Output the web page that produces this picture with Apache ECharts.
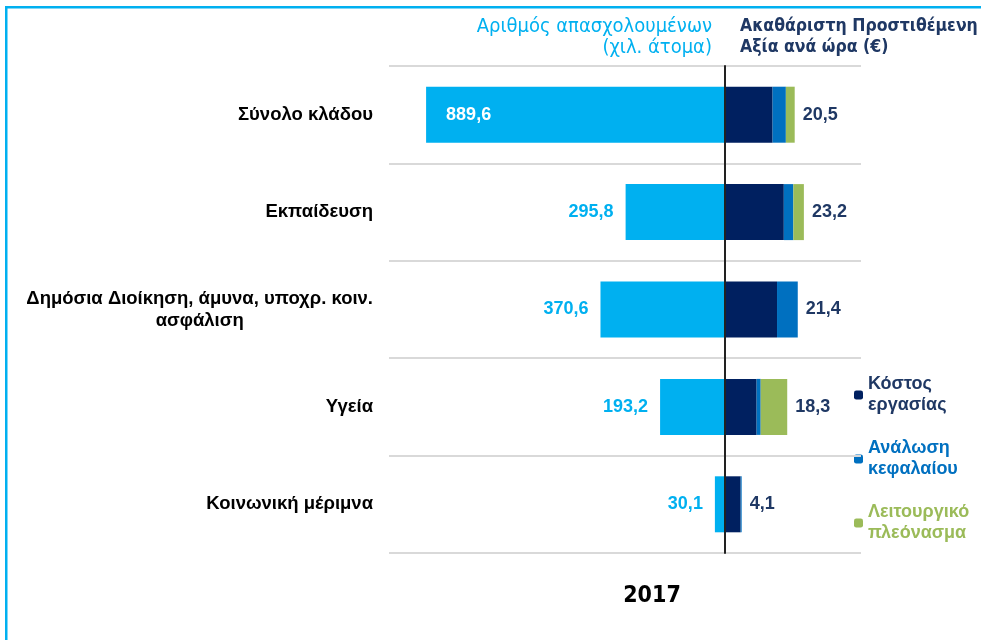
<!DOCTYPE html>
<html>
<head>
<meta charset="utf-8">
<script src="https://cdn.jsdelivr.net/npm/echarts@6/dist/echarts.min.js"></script>
<style>
  html, body { margin: 0; padding: 0; background: #fff; }
  #chart { width: 981px; height: 640px; }
</style>
</head>
<body>
<div id="chart"></div>
<script>
// κατηγορίες (από πάνω προς τα κάτω)
const categories = [
  'Σύνολο κλάδου',
  'Εκπαίδευση',
  'Δημόσια Διοίκηση, άμυνα, υποχρ. κοιν.\nασφάλιση',
  'Υγεία',
  'Κοινωνική μέριμνα'
]
// απασχολούμενοι (χιλ. άτομα)
const employed = [889.6, 295.8, 370.6, 193.2, 30.1]
// ΑΠΑ ανά ώρα - συνιστώσες
const labourCost = [14.0, 17.3, 15.3, 9.3, 4.6]
const capitalUse = [3.9, 2.8, 6.1, 1.2, 0.3]
const opSurplus = [2.6, 3.1, 0, 7.8, 0]
const gvaTotal = [20.5, 23.2, 21.4, 18.3, 4.1]
const legendNames = ['Κόστος εργασίας', 'Ανάλωση κεφαλαίου', 'Λειτουργικό πλεόνασμα']

const fmt = v => v.toFixed(1).replace('.', ',')
const font = "'Liberation Sans', Arial, sans-serif"
const narrow = "'Liberation Sans Narrow', 'DejaVu Sans Condensed', 'Liberation Sans', sans-serif"

const chart = echarts.init(document.getElementById('chart'))

const splitLine = { show: true, lineStyle: { color: '#d9d9d9', width: 2 } }

chart.setOption({
  animation: false,
  textStyle: { fontFamily: font },
  grid: [
    { left: 389, width: 336, top: 66, height: 487 },
    { left: 725, width: 136, top: 66, height: 487 }
  ],
  xAxis: [
    { gridIndex: 0, type: 'value', inverse: true, min: 0, max: 1000, show: false },
    { gridIndex: 1, type: 'value', min: 0, max: 40, show: false }
  ],
  yAxis: [
    {
      gridIndex: 0,
      type: 'category',
      inverse: true,
      data: categories,
      axisLine: { show: false },
      axisTick: { show: false },
      splitLine: splitLine,
      axisLabel: {
        margin: 16,
        color: '#000',
        fontWeight: 'bold',
        fontSize: 18.5,
        lineHeight: 22,
        formatter: v => v.split('\n').map(s => '{c|' + s + '}').join('\n'),
        rich: { c: { align: 'center', fontWeight: 'bold', fontSize: 18.5, color: '#000', lineHeight: 22 } }
      }
    },
    {
      gridIndex: 1,
      type: 'category',
      inverse: true,
      data: categories,
      axisLine: { show: true, lineStyle: { color: '#222', width: 2 } },
      axisTick: { show: false },
      axisLabel: { show: false },
      splitLine: splitLine,
      z: 5
    }
  ],
  legend: {
    orient: 'vertical',
    left: 849,
    top: 369,
    itemWidth: 9,
    itemHeight: 9,
    itemGap: 22,
    selectedMode: false,
    data: [
      { name: legendNames[0], textStyle: { color: '#1f3864' } },
      { name: legendNames[1], textStyle: { color: '#0070c0' } },
      { name: legendNames[2], textStyle: { color: '#9bbb59' } }
    ],
    formatter: n => n.replace(' ', '\n'),
    textStyle: { fontSize: 18, fontWeight: 'bold', lineHeight: 21, fontFamily: font }
  },
  series: [
    {
      name: 'Απασχολούμενοι',
      type: 'bar',
      xAxisIndex: 0,
      yAxisIndex: 0,
      barWidth: 56,
      itemStyle: { color: '#00b0f0' },
      data: employed.map((v, i) => ({
        value: v,
        label: i === 0
          ? { position: 'insideLeft', distance: 20, color: '#fff' }
          : { position: 'left', distance: 12, color: '#00b0f0' }
      })),
      label: {
        show: true,
        fontSize: 18,
        fontWeight: 'bold',
        formatter: p => fmt(p.value)
      }
    },
    {
      name: legendNames[0],
      type: 'bar',
      stack: 'gva',
      xAxisIndex: 1,
      yAxisIndex: 1,
      barWidth: 56,
      itemStyle: { color: '#002060' },
      data: labourCost
    },
    {
      name: legendNames[1],
      type: 'bar',
      stack: 'gva',
      xAxisIndex: 1,
      yAxisIndex: 1,
      barWidth: 56,
      itemStyle: { color: '#0070c0' },
      data: capitalUse
    },
    {
      name: legendNames[2],
      type: 'bar',
      stack: 'gva',
      xAxisIndex: 1,
      yAxisIndex: 1,
      barWidth: 56,
      itemStyle: { color: '#9bbb59' },
      data: opSurplus,
      label: {
        show: true,
        position: 'right',
        distance: 8,
        color: '#1f3864',
        fontSize: 18,
        fontWeight: 'bold',
        formatter: p => fmt(gvaTotal[p.dataIndex])
      }
    }
  ],
  graphic: [
    { type: 'rect', shape: { x: 5, y: 6, width: 980, height: 2.5 }, style: { fill: '#00b0f0' }, silent: true },
    { type: 'rect', shape: { x: 5, y: 6, width: 2.5, height: 640 }, style: { fill: '#00b0f0' }, silent: true },
    {
      type: 'text', x: 712, y: 16, silent: true,
      style: { text: 'Αριθμός απασχολουμένων\n(χιλ. άτομα)', align: 'right', fill: '#00b0f0', font: '20px ' + narrow, lineHeight: 21 }
    },
    {
      type: 'text', x: 740, y: 16, silent: true,
      style: { text: 'Ακαθάριστη Προστιθέμενη\nΑξία ανά ώρα (€)', align: 'left', fill: '#1f3864', font: 'bold 17.5px ' + narrow, lineHeight: 21 }
    },
    {
      type: 'text', x: 652, y: 585, silent: true,
      style: { text: '2017', align: 'center', fill: '#000', font: 'bold 23px ' + narrow }
    }
  ]
})
</script>
</body>
</html>
